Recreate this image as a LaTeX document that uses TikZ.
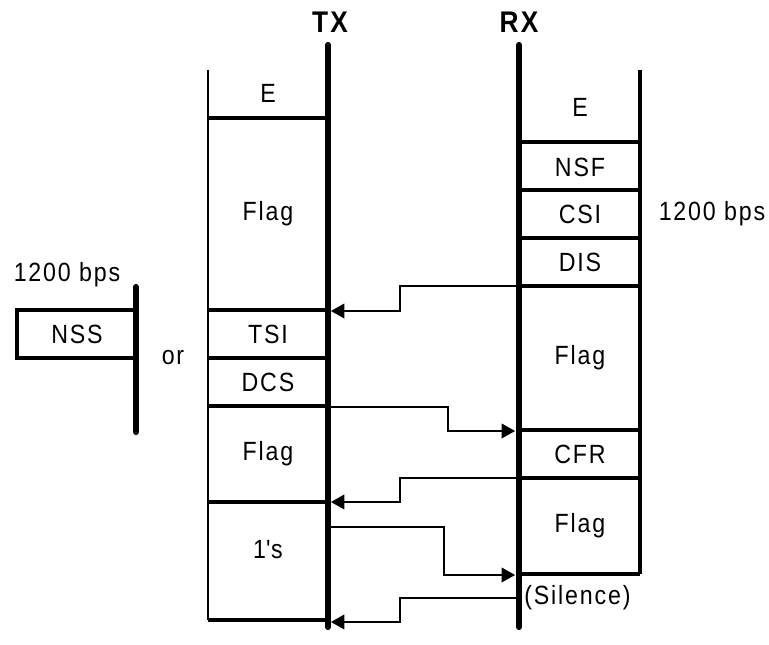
\documentclass[tikz,border=0pt]{standalone}
\usepackage{fontspec}
\setmainfont[LetterSpace=7, FakeStretch=0.88]{Liberation Sans}
\usetikzlibrary{arrows.meta}
\tikzstyle{fld}=[inner sep=0, font=\fontsize{15}{17}\selectfont]
\tikzstyle{axis}=[line width=3.5pt, line cap=round]
\tikzstyle{sep}=[line width=1.9pt]
\tikzstyle{side}=[line width=1.5pt]
\tikzstyle{msg}=[line width=0.6pt, -{Triangle[length=0.27cm,width=0.3cm]}]

\begin{document}
\begin{tikzpicture}[x=0.02cm, y=-0.02cm]
\useasboundingbox (0,0) rectangle (769,645);
%
\draw[axis] (328,45) -- (328,627);
\draw[axis] (519,45) -- (519,627);
\draw (330,22) node[fld, font=\bfseries\fontsize{17}{19}\selectfont] (tx) {TX};
\draw (519,22) node[fld, font=\bfseries\fontsize{17}{19}\selectfont] (rx) {RX};
%
\draw[side] (208,70) -- (208,620);
\foreach \y in {118,310,358,406,502,620}
    {
	\draw[sep] (208,\y) -- (328,\y);}
\draw (268,93) node[fld] (e1) {E};
\draw (268,214) node[fld] (flag1) {Flag};
\draw (268,334) node[fld] (tsi) {TSI};
\draw (268,382) node[fld] (dcs) {DCS};
\draw (268,454) node[fld] (flag2) {Flag};
\draw (268,550) node[fld] (ones) {1\textquotesingle s};
%
\draw[sep] (640,70) -- (640,574);
\foreach \y in {142,190,238,286,430,478,574}
    {
	\draw[sep] (519,\y) -- (640,\y);}
\draw (580,107) node[fld] (e2) {E};
\draw (580,167) node[fld] (nsf) {NSF};
\draw (580,214) node[fld] (csi) {CSI};
\draw (580,262) node[fld] (dis) {DIS};
\draw (580,358) node[fld] (flag3) {Flag};
\draw (580,454) node[fld] (cfr) {CFR};
\draw (580,526) node[fld] (flag4) {Flag};
\draw (524,598) node[fld, anchor=west] (silence) {(Silence)};
\draw (712,214) node[fld] (rate1) {1200 bps};
%
\draw[axis] (136,287) -- (136,432);
\draw[sep] (136,310) -- (17,310) -- (17,358) -- (136,358);
\draw (77,334) node[fld] (nss) {NSS};
\draw (67,275) node[fld] (rate2) {1200 bps};
\draw (173,358) node[fld] (or) {or};
%
\coordinate (r1) at (519,286);
\coordinate (t1) at (331,311);
\coordinate (t2) at (328,407);
\coordinate (r2) at (515,431);
\coordinate (r3) at (519,478);
\coordinate (t3) at (331,502);
\coordinate (t4) at (328,527);
\coordinate (r4) at (515,575);
\coordinate (r5) at (519,598);
\coordinate (t5) at (331,622);
\draw[msg] (r1) -- ++(-119,0) |- (t1);
\draw[msg] (t2) -- ++(120,0) |- (r2);
\draw[msg] (r3) -- ++(-119,0) |- (t3);
\draw[msg] (t4) -- ++(116,0) |- (r4);
\draw[msg] (r5) -- ++(-119,0) |- (t5);
\end{tikzpicture}
\end{document}
